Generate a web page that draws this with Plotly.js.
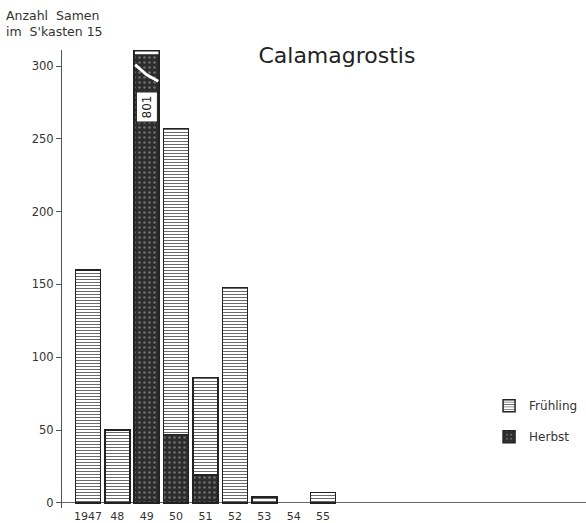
<!DOCTYPE html>
<html>
<head>
<meta charset="utf-8">
<script src="https://cdn.plot.ly/plotly-3.0.1.min.js"></script>
<style>html,body{margin:0;padding:0;background:#fff;}#chart{width:586px;height:523px;}</style>
</head>
<body>
<div id="chart"></div>
<script>
const years = ['1947', '48', '49', '50', '51', '52', '53', '54', '55'];
const fruehling = [160, 50, 0, 210, 67, 148, 4, 0, 7];
const herbst = [0, 0, 801, 47, 19, 0, 0, 0, 0];
const yTicks = [0, 50, 100, 150, 200, 250, 300];
const seriesNames = ['Frühling', 'Herbst'];
const brokenLabel = '801';

const nz = a => a.map(v => (v === 0 ? null : v));
const lineCol = '#222';
const traces = [
  {
    type: 'bar', x: years, y: nz(herbst), name: seriesNames[1], legendgroup: 'h', legendrank: 2,
    marker: {
      color: '#2c2c2c',
      line: {color: lineCol, width: 1.5},
      pattern: {shape: '.', fgcolor: '#6f6f6f', bgcolor: '#2c2c2c', size: 5, solidity: 0.2}
    },
    hoverinfo: 'x+y'
  },
  {
    type: 'bar', x: years, y: nz(fruehling), name: seriesNames[0], legendgroup: 'f', legendrank: 1,
    marker: {
      color: '#fff',
      line: {color: lineCol, width: 1.5},
      pattern: {shape: '-', fgcolor: '#6a6a6a', bgcolor: '#ffffff', size: 3, solidity: 0.35}
    },
    hoverinfo: 'x+y'
  }
];

const iBroken = years.indexOf('49');
const half = 0.425;
const layout = {
  width: 586, height: 523,
  margin: {l: 62, r: 0, t: 50, b: 15},
  paper_bgcolor: '#fff', plot_bgcolor: '#fff',
  barmode: 'stack', bargap: 0.15,
  font: {family: 'DejaVu Sans, sans-serif', color: '#333', size: 12},
  title: {text: 'Calamagrostis', x: 0.575, xanchor: 'center', y: 0.895, yanchor: 'middle',
          font: {size: 22, color: '#222', family: 'DejaVu Sans, sans-serif'}},
  xaxis: {
    type: 'category', range: [-0.88, 16.94], showline: false, showgrid: false,
    ticks: '', tickfont: {size: 11, color: '#333'}, automargin: false, fixedrange: true
  },
  yaxis: {
    range: [-3.5, 311], tickvals: yTicks, showgrid: false, showline: true, linecolor: '#555', linewidth: 1,
    ticks: 'outside', ticklen: 5, tickcolor: '#555', tickfont: {size: 11.5, color: '#333'},
    zeroline: true, zerolinecolor: '#666', zerolinewidth: 1, automargin: false, fixedrange: true
  },
  showlegend: true,
  legend: {x: 0.815, xanchor: 'left', y: 0.255, yanchor: 'top', traceorder: 'grouped',
           tracegroupgap: 12, font: {size: 12, color: '#333'}, bgcolor: 'rgba(0,0,0,0)'},
  shapes: [
    {type: 'rect', xref: 'x', yref: 'y', x0: iBroken - half, x1: iBroken + half, y0: 307.5, y1: 310.5,
     fillcolor: '#fff', line: {color: lineCol, width: 1.5}},
    {type: 'path', xref: 'x', yref: 'y',
     path: `M ${iBroken - half + 0.03} 301 L ${iBroken} 294 L ${iBroken + half - 0.03} 289.5`,
     line: {color: '#fff', width: 3}}
  ],
  annotations: [
    {xref: 'paper', yref: 'paper', x: -0.11, y: 1.095, xanchor: 'left', yanchor: 'top', align: 'left',
     showarrow: false, text: "Anzahl  Samen<br>im  S'kasten 15", font: {size: 12.5, color: '#333'}},
    {xref: 'x', yref: 'y', x: iBroken, y: 272, text: brokenLabel, showarrow: false, textangle: -90,
     bgcolor: '#ffffff', bordercolor: lineCol, borderwidth: 1, borderpad: 3, font: {size: 12, color: '#222'}}
  ]
};

Plotly.newPlot('chart', traces, layout, {displayModeBar: false, staticPlot: true});
</script>
</body>
</html>
